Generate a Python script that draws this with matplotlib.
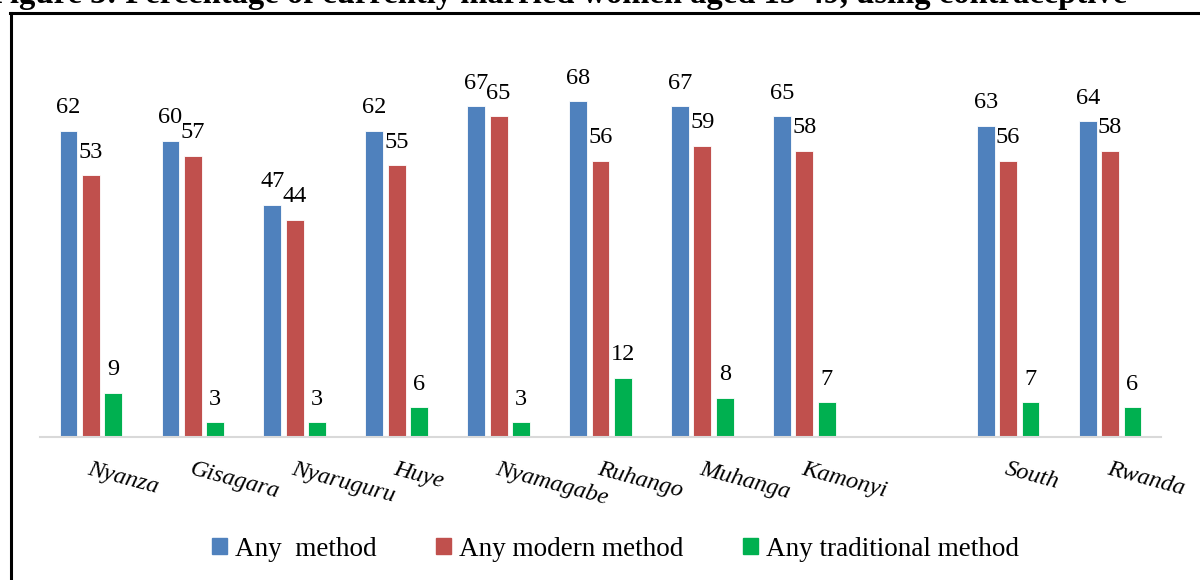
import matplotlib

matplotlib.use("Agg")
import matplotlib.pyplot as plt
import numpy as np
from matplotlib.lines import Line2D

plt.rcParams["font.family"] = ["Liberation Serif", "DejaVu Serif"]

# ---------------------------------------------------------------------------
# data (blank slot separates districts from totals)
categories = ["Nyanza", "Gisagara", "Nyaruguru", "Huye", "Nyamagabe",
              "Ruhango", "Muhanga", "Kamonyi", "", "South", "Rwanda"]
any_method = [62, 60, 47, 62, 67, 68, 67, 65, None, 63, 64]
any_modern = [53, 57, 44, 55, 65, 56, 59, 58, None, 56, 58]
any_traditional = [9, 3, 3, 6, 3, 12, 8, 7, None, 7, 6]

series_names = ["Any  method", "Any modern method", "Any traditional method"]
colors = ["#4F81BD", "#C0504D", "#00B050"]
title = "Figure 3: Percentage of currently married women aged 15-49, using contraceptive"

# ---------------------------------------------------------------------------
W, H = 1200, 580
fig = plt.figure(figsize=(W / 100, H / 100), dpi=100)
ax = fig.add_axes([40 / W, 1 - 437 / H, (1161 - 40) / W, 395 / H])

x = np.arange(len(categories))
offsets = [-0.22, 0.0, 0.22]
bar_w = 0.175
for vals, off, col in zip([any_method, any_modern, any_traditional], offsets, colors):
    xs = [xi + off for xi, v in zip(x, vals) if v is not None]
    ys = [v for v in vals if v is not None]
    bars = ax.bar(xs, ys, width=bar_w, color=col, edgecolor="white", linewidth=0.6)
    for b, v in zip(bars, ys):
        ax.annotate(f"{v}", (b.get_x() + b.get_width() / 2, v),
                    xytext=(0, 9), textcoords="offset points",
                    ha="center", va="bottom", fontsize=17.5)

ax.set_xlim(-0.5, len(categories) - 0.5)
ax.set_ylim(0, 80)
ax.set_xticks([])
ax.set_yticks([])
for s in ["top", "right", "left"]:
    ax.spines[s].set_visible(False)
ax.spines["bottom"].set_color("#D9D9D9")
ax.spines["bottom"].set_linewidth(1.5)

for xi, name in zip(x, categories):
    ax.text(xi, -4.3, name, rotation=-15, rotation_mode="anchor",
            ha="left", va="top", fontsize=17.5, style="italic")

# legend with small square swatches
handles = [plt.Rectangle((0, 0), 1, 1, color=c) for c in colors]
fig.legend(handles, series_names, loc="center", bbox_to_anchor=(0.513, 1 - 549 / H),
           ncol=3, frameon=False, fontsize=19.5, handlelength=0.55, handleheight=0.55,
           handletextpad=0.3, columnspacing=2.2)

# outer frame (only top and left edges fall inside the image)
fig.add_artist(Line2D([11 / W, 11 / W], [0, 1 - 13 / H], transform=fig.transFigure,
                      color="black", lw=2.2))
fig.add_artist(Line2D([10 / W, 1], [1 - 13 / H, 1 - 13 / H], transform=fig.transFigure,
                      color="black", lw=2.2))

# title, mostly clipped by the top edge as in the source
fig.text(-10 / W, 1 - 3 / H, title, ha="left", va="baseline",
         fontsize=23.5, fontweight="bold")

fig.savefig("out.png", dpi=100)
